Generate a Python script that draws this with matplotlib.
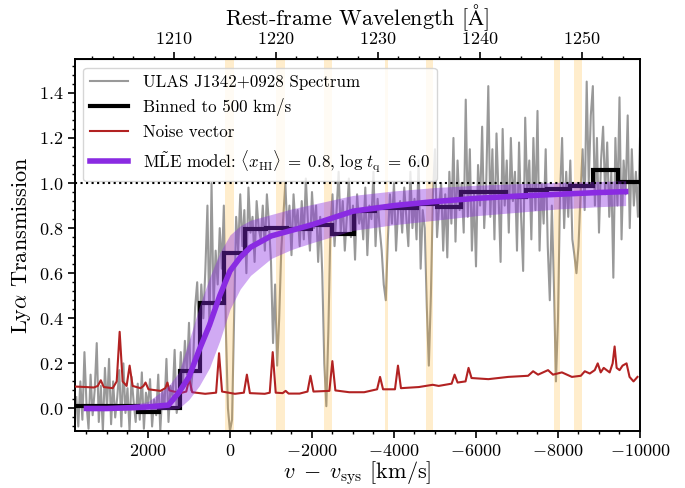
import numpy as np
import matplotlib
matplotlib.use("Agg")
import matplotlib.pyplot as plt
from matplotlib.ticker import MultipleLocator, AutoMinorLocator, FixedLocator

plt.rcParams['font.family'] = 'serif'
plt.rcParams['font.serif'] = ['cmr10']
plt.rcParams['mathtext.fontset'] = 'cm'
plt.rcParams['axes.formatter.use_mathtext'] = True
plt.rcParams['axes.unicode_minus'] = True

# wavelength scale of the top axis
LAM_AT_V0 = 1215.49
KMS_PER_ANG = 248.8
top_ticks = [1210, 1220, 1230, 1240, 1250]

# ---------------- data ----------------
# observed spectrum, pixel velocities (km/s) from 3750 down to -10000 in 50 km/s steps
spec_v = list(range(3750, -10001, -50))
spec_flux = [
    0.05, -0.08, 0.12, -0.05, 0.25, 0.02, -0.09, 0.15, -0.03, 0.08,
    0.29, -0.06, 0.10, -0.10, 0.18, 0.00, 0.22, -0.07, 0.12, -0.04,
    0.05, 0.17, -0.08, 0.20, -0.02, 0.09, -0.10, 0.14, 0.03, -0.06,
    0.11, -0.05, 0.16, -0.09, 0.07, 0.01, 0.13, -0.08, 0.04, -0.03,
    0.15, -0.10, 0.08, 0.00, 0.22, -0.06, 0.10, 0.05, 0.26, -0.02,
    0.05, 0.25, 0.10, 0.30, 0.15, 0.38, 0.08, 0.20, 0.45, 0.56,
    0.30, 0.55, 0.40, 0.62, 0.90, 0.35, 1.00, 0.45, 0.70, 0.55,
    0.80, 0.62, 0.90, 0.35, 0.00, -0.10, -0.05, 0.40, 0.85, 0.70,
    0.95, 0.72, 0.88, 0.60, 0.98, 0.78, 0.85, 0.65, 0.92, 0.80,
    0.75, 0.90, 0.70, 0.95, 0.82, 0.65, 0.29, 0.55, 0.19, 0.40,
    0.70, 0.85, 1.00, 0.78, 0.90, 0.68, 0.95, 0.80, 0.88, 0.72,
    0.92, 0.75, 1.02, 0.83, 0.70, 0.96, 0.80, 0.90, 0.65, 0.85,
    0.60, 0.20, 0.01, 0.35, 0.80, 0.95, 0.72, 0.88, 1.05, 0.78,
    0.92, 0.70, 0.85, 1.02, 0.76, 0.90, 0.66, 0.95, 0.82, 0.88,
    0.75, 0.98, 0.68, 0.90, 0.84, 1.05, 0.72, 0.93, 0.80, 0.70,
    0.55, 0.48, 0.75, 0.95, 0.82, 1.00, 0.70, 0.88, 0.92, 0.78,
    0.98, 0.85, 0.72, 1.05, 0.80, 0.93, 0.75, 1.10, 0.62, 0.88,
    0.80, 0.45, 0.19, 0.50, 0.95, 1.15, 0.76, 0.90, 1.00, 0.70,
    0.95, 0.67, 1.05, 0.82, 1.20, 0.74, 1.10, 0.88, 1.00, 0.78,
    1.37, 0.85, 1.15, 0.70, 0.95, 0.63, 1.08, 0.90, 1.25, 0.80,
    1.00, 1.43, 0.85, 1.15, 0.75, 1.22, 0.95, 0.65, 1.24, 0.90,
    1.10, 0.78, 1.20, 0.92, 1.05, 0.70, 1.18, 0.85, 0.61, 1.29,
    0.95, 1.10, 0.75, 1.20, 0.88, 1.32, 0.70, 1.00, 0.82, 1.15,
    0.72, 0.48, 0.90, 0.55, 0.12, 0.40, 0.95, 1.20, 0.80, 1.05,
    0.85, 1.10, 0.75, 0.68, 0.60, 0.72, 0.95, 1.15, 0.88, 1.45,
    1.00, 1.30, 1.43, 0.90, 1.20, 0.78, 1.10, 1.25, 0.95, 1.18,
    0.85, 1.05, 0.58, 1.20, 0.90, 1.38, 0.75, 1.10, 0.95, 1.30,
    0.80, 1.15, 0.90, 1.05, 0.85, 1.20,
]

# binned spectrum: bin edges (km/s) and binned transmission
bin_edges = [4300, 2236, 1720, 1228, 737, 140, -369, -880, -1400, -1966, -2482,
             -3022, -3530, -4040, -4550, -5060, -5627, -6200, -6732, -7224,
             -7740, -8290, -8845, -9459, -10100]
bin_vals = [0.01, -0.015, 0.0, 0.165, 0.47, 0.69, 0.795, 0.80, 0.795, 0.815,
            0.775, 0.875, 0.89, 0.89, 0.905, 0.895, 0.96, 0.96, 0.94, 0.97,
            0.975, 0.985, 1.06, 1.005]

# noise vector
noise_v = [3757, 3515, 3321, 3224, 3151, 3079, 2860, 2763, 2691, 2618, 2521, 2448,
           2376, 2182, 2109, 2060, 1988, 1697, 1576, 1527, 1479, 1212, 1067, 994,
           921, 606, 339, 267, 194, -121, -339, -412, -485, -848, -970, -1042,
           -1115, -1285, -1357, -1430, -1697, -1891, -1963, -2036, -2424, -2497,
           -2570, -2909, -3272, -3588, -3660, -3733, -4024, -4097, -4170, -4606,
           -4945, -5090, -5406, -5478, -5551, -5745, -5818, -5891, -6302, -6787,
           -7272, -7393, -7514, -7757, -7878, -8096, -8339, -8557, -8654, -8775,
           -8896, -8969, -9042, -9115, -9187, -9260, -9333, -9381, -9430, -9502,
           -9575, -9672, -9745, -9842, -9939]
noise_vals = [0.097, 0.095, 0.093, 0.10, 0.125, 0.095, 0.09, 0.12, 0.34, 0.12, 0.10,
              0.19, 0.10, 0.09, 0.10, 0.115, 0.085, 0.078, 0.09, 0.115, 0.08, 0.068,
              0.075, 0.13, 0.072, 0.065, 0.07, 0.245, 0.075, 0.065, 0.07, 0.15,
              0.068, 0.065, 0.07, 0.25, 0.07, 0.068, 0.078, 0.066, 0.066, 0.075,
              0.145, 0.075, 0.078, 0.21, 0.08, 0.072, 0.072, 0.085, 0.14, 0.085,
              0.085, 0.19, 0.09, 0.095, 0.105, 0.10, 0.11, 0.15, 0.115, 0.12, 0.18,
              0.135, 0.13, 0.14, 0.145, 0.165, 0.15, 0.17, 0.15, 0.16, 0.14, 0.145,
              0.165, 0.155, 0.17, 0.20, 0.16, 0.18, 0.17, 0.16, 0.20, 0.275, 0.18,
              0.17, 0.19, 0.20, 0.14, 0.12, 0.14]

# MLE model with its uncertainty band
model_v = [3500, 3000, 2500, 2000, 1500, 1250, 1000, 750, 500, 250, 0, -250, -500,
           -1000, -1500, -2000, -3000, -4000, -5000, -6000, -7000, -8000, -9000, -9650]
model_T = [0.0, 0.0, 0.003, 0.007, 0.015, 0.07, 0.14, 0.26, 0.37, 0.50, 0.61, 0.67,
           0.715, 0.765, 0.79, 0.815, 0.875, 0.90, 0.918, 0.932, 0.942, 0.95, 0.958, 0.962]
model_hi = [0.01, 0.01, 0.015, 0.03, 0.10, 0.16, 0.30, 0.45, 0.58, 0.69, 0.77, 0.81,
            0.835, 0.86, 0.885, 0.905, 0.945, 0.965, 0.98, 0.99, 0.997, 1.003, 1.007, 1.01]
model_lo = [-0.01, -0.01, -0.008, -0.005, -0.005, 0.0, 0.04, 0.10, 0.18, 0.30, 0.44, 0.53,
            0.59, 0.665, 0.705, 0.735, 0.79, 0.815, 0.835, 0.855, 0.87, 0.885, 0.895, 0.90]

# masked sky-line regions (km/s)
mask_lo = [110, -1120, -2300, -3770, -4790, -7900, -8380]
mask_hi = [-110, -1330, -2480, -3860, -4950, -8060, -8580]

# ---------------- plot ----------------
fig = plt.figure(figsize=(6.85, 4.88), dpi=100)
ax = fig.add_axes([0.1095, 0.1168, 0.8248, 0.7622])

ax.plot(spec_v, spec_flux, color='gray', alpha=0.8, lw=1.5,
        label='ULAS J1342+0928 Spectrum', zorder=1)
for a, b in zip(mask_lo, mask_hi):
    ax.axvspan(a, b, color='orange', alpha=0.2, lw=0, zorder=2)
ax.stairs(bin_vals, bin_edges, color='k', lw=3, baseline=None, zorder=3)
ax.plot([], [], color='k', lw=3, label='Binned to 500 km/s')
ax.plot(noise_v, noise_vals, color='firebrick', lw=1.5, label='Noise vector', zorder=3)
ax.fill_between(model_v, model_lo, model_hi, color='blueviolet', alpha=0.4, lw=0, zorder=4)
ax.plot(model_v, model_T, color='blueviolet', lw=4, zorder=5,
        label=r'M$\tilde{\rm L}$E model: $\langle x_{\rm HI}\rangle\;=\;0.8$, $\log\,t_{\rm q}\;=\;6.0$')
ax.axhline(1.0, color='k', ls=':', lw=1.5, zorder=6)

ax.set_xlim(3780, -10000)
ax.set_ylim(-0.1, 1.55)
ax.xaxis.set_major_locator(MultipleLocator(2000))
ax.xaxis.set_minor_locator(MultipleLocator(500))
ax.yaxis.set_major_locator(MultipleLocator(0.2))
ax.yaxis.set_minor_locator(AutoMinorLocator(5))
ax.tick_params(which='major', length=5, width=1.2, labelsize=13)
ax.tick_params(which='minor', length=2.5, width=1.0)
for s in ax.spines.values():
    s.set_linewidth(1.4)

ax.set_xlabel(r'$v\;-\;v_{\rm sys}$ [km/s]', fontsize=16, labelpad=0)
ax.set_ylabel(r'Ly$\alpha$ Transmission', fontsize=16)

def v2lam(v):
    return LAM_AT_V0 - np.asarray(v) / KMS_PER_ANG

def lam2v(lam):
    return (LAM_AT_V0 - np.asarray(lam)) * KMS_PER_ANG

sec = ax.secondary_xaxis('top', functions=(v2lam, lam2v))
sec.xaxis.set_major_locator(FixedLocator(top_ticks))
sec.xaxis.set_minor_locator(MultipleLocator(2))
sec.tick_params(which='major', length=5, width=1.2, labelsize=13)
sec.tick_params(which='minor', length=2.5, width=1.0)
sec.set_xlabel(r'Rest-frame Wavelength [$\mathrm{\AA}$]', fontsize=16)

ax.legend(loc='upper left', fontsize=12.2, handlelength=2.2, handletextpad=0.9)

fig.savefig('out.png', dpi=100)
